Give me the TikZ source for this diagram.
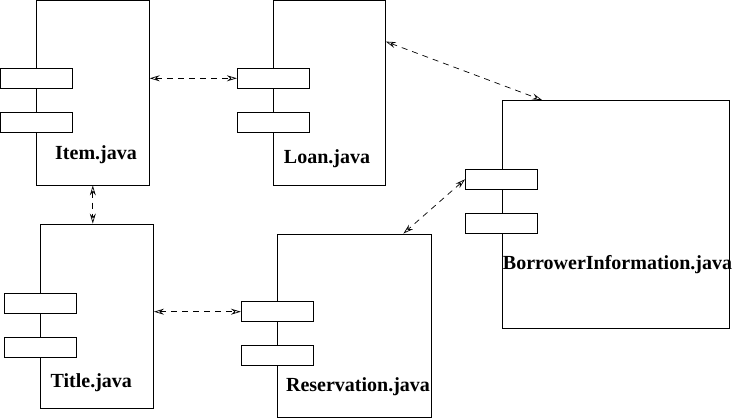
\documentclass[tikz,border=0pt]{standalone}
\usepackage{fontspec}
\setmainfont{Liberation Serif}
\usepackage{tikz}
\usetikzlibrary{arrows.meta, positioning}
\tikzset{
Component/.style={
	draw, rectangle,
	line width=0.9pt,
	inner sep=0pt
},
Port/.style={
	draw, rectangle,
	fill=white,
	line width=0.9pt,
	minimum width=72pt,
	minimum height=20pt,
	inner sep=0pt
},
FileName/.style={
	anchor=base,
	inner sep=0pt,
	font=\bfseries\fontsize{20}{24}\selectfont
},
Dep/.style={
	draw, line width=0.7pt,
	dash pattern=on 6pt off 5pt,
	{Stealth[open, length=10pt, width=6pt, inset=3.5pt]}-{Stealth[open, length=10pt, width=6pt, inset=3.5pt]}
}
}

\begin{document}
\begin{tikzpicture}[x=1pt, y=-1pt]
	\useasboundingbox (0,0) rectangle (733,418);
	\node[Component, minimum width=113pt, minimum height=185pt] (Item) at (92.8,92.5) {};
	\node[Component, minimum width=112pt, minimum height=185pt] (Loan) at (329.3,92.5) {};
	\node[Component, minimum width=113.5pt, minimum height=184.5pt] (Title) at (96.8,316.2) {};
	\node[Component, minimum width=154.7pt, minimum height=183pt] (Res) at (354.4,325.5) {};
	\node[Component, minimum width=227pt, minimum height=227.8pt] (Borrower) at (616,214.4) {};

	\node[Port] (ItemP1) at (36.3,78.3) {};
	\node[Port] (ItemP2) at (36.3,122.3) {};
	\node[Port] (LoanP1) at (273.3,78.3) {};
	\node[Port] (LoanP2) at (273.3,122.3) {};
	\node[Port] (TitleP1) at (40.2,303.3) {};
	\node[Port] (TitleP2) at (40.2,347) {};
	\node[Port] (ResP1) at (277.3,311.7) {};
	\node[Port] (ResP2) at (277.3,355.5) {};
	\node[Port] (BorrowerP1) at (501.5,179.3) {};
	\node[Port] (BorrowerP2) at (501.5,223.3) {};

	\node[FileName] (ItemName) at (96,159) {Item.java};
	\node[FileName] (LoanName) at (327,163) {Loan.java};
	\node[FileName] (TitleName) at (91.3,387) {Title.java};
	\node[FileName] (ResName) at (358,391.7) {Reservation.java};
	\node[FileName] (BorrowerName) at (617.5,269.3) {BorrowerInformation.java};

	\draw[Dep] (Item.east |- LoanP1) -- (LoanP1.west);
	\draw[Dep] (Item.south) -- (Item.south |- Title.north);
	\draw[Dep] ([yshift=-42pt]Loan.north east) -- ([xshift=40pt]Borrower.north west);
	\draw[Dep] (BorrowerP1.west) -- ([xshift=49pt]Res.north);
	\draw[Dep] (Title.east |- ResP1) -- (ResP1.west);
\end{tikzpicture}
\end{document}
